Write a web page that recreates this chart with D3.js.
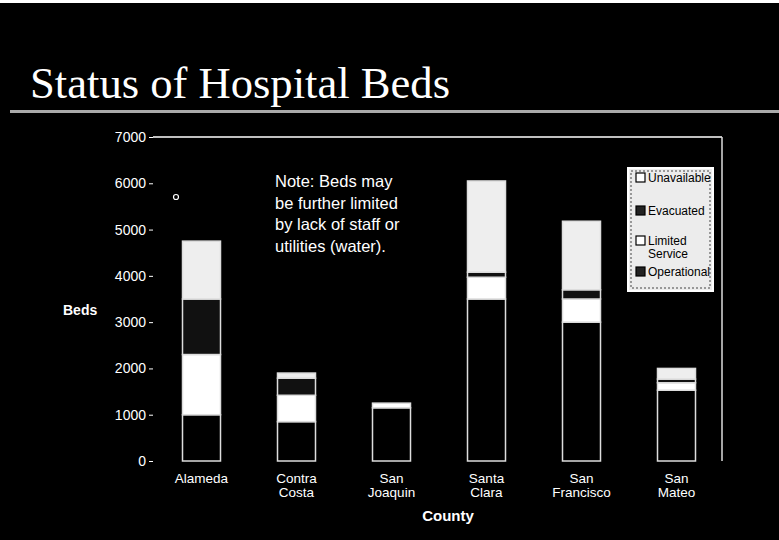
<!DOCTYPE html>
<html><head><meta charset="utf-8">
<script src="https://cdn.jsdelivr.net/npm/d3@7"></script>
<style>html,body{margin:0;padding:0;background:#000;}svg{display:block;}</style>
</head><body>
<svg id="chart" width="779" height="540"></svg>
<script>
const categories = ["Alameda", "Contra Costa", "San Joaquin", "Santa Clara", "San Francisco", "San Mateo"];
const operational = [1000, 850, 1150, 3500, 3000, 1530];
const limitedService = [1300, 570, 100, 470, 500, 160];
const evacuated = [1200, 370, 0, 110, 200, 80];
const unavailable = [1250, 110, 0, 1970, 1480, 230];
const yTicks = [0, 1000, 2000, 3000, 4000, 5000, 6000, 7000];
const seriesNames = ["Operational", "Limited Service", "Evacuated", "Unavailable"];
const legendLabels = [["Unavailable"], ["Evacuated"], ["Limited", "Service"], ["Operational"]];
const noteLines = ["Note: Beds may", "be further limited", "by  lack of staff or", "utilities (water)."];
const title = "Status of Hospital Beds";

const svg = d3.select("#chart");
svg.append("rect").attr("width", 779).attr("height", 540).attr("fill", "#000");
svg.append("rect").attr("x", 0).attr("y", 0).attr("width", 779).attr("height", 3).attr("fill", "#fff");

// title
svg.append("text").attr("x", 30).attr("y", 98).text(title)
  .attr("font-family", "Liberation Serif, serif").attr("font-size", 45)
  .attr("fill", "#fff").attr("textLength", 420).attr("lengthAdjust", "spacingAndGlyphs");
svg.append("rect").attr("x", 10).attr("y", 110).attr("width", 769).attr("height", 3).attr("fill", "#aaa");

const x = d3.scaleBand().domain(categories).range([154, 724]).paddingInner(0.6).paddingOuter(0.3);
const y = d3.scaleLinear().domain([0, 7000]).range([461, 137]);

// frame lines (top and right)
svg.append("line").attr("x1", 153).attr("x2", 722).attr("y1", y(7000)).attr("y2", y(7000)).attr("stroke", "#fff").attr("stroke-width", 1.5);
svg.append("line").attr("x1", 722).attr("x2", 722).attr("y1", y(7000)).attr("y2", y(0)).attr("stroke", "#ddd").attr("stroke-width", 1.5);

// y axis
const yAxis = d3.axisLeft(y).tickValues(yTicks).tickSize(4).tickPadding(3).tickFormat(d3.format("d"));
const ga = svg.append("g").attr("transform", "translate(153,0)").call(yAxis);
ga.select(".domain").remove();
ga.selectAll("line").attr("stroke", "#fff");
ga.selectAll("text").attr("fill", "#fff").attr("font-family", "Liberation Sans, Arial, sans-serif").attr("font-size", 14);

svg.append("text").attr("x", 63).attr("y", 315).text("Beds").attr("fill", "#fff")
  .attr("font-family", "Liberation Sans, Arial, sans-serif").attr("font-size", 14).attr("font-weight", "bold");

// bars
const rows = categories.map((c, i) => ({
  cat: c, "Operational": operational[i], "Limited Service": limitedService[i],
  "Evacuated": evacuated[i], "Unavailable": unavailable[i]
}));
const stack = d3.stack().keys(seriesNames)(rows);
const fills = {"Operational": "#000", "Limited Service": "#fff", "Evacuated": "#111", "Unavailable": "#eee"};
stack.forEach(s => {
  svg.append("g").selectAll("rect").data(s.filter(d => d[1] > d[0])).join("rect")
    .attr("x", d => x(d.data.cat)).attr("width", x.bandwidth())
    .attr("y", d => y(d[1])).attr("height", d => y(d[0]) - y(d[1]))
    .attr("fill", fills[s.key]).attr("stroke", "#ddd").attr("stroke-width", 1.5);
});

// category labels
const gl = svg.append("g");
categories.forEach(c => {
  const parts = c.split(" ");
  const t = gl.append("text").attr("x", x(c) + x.bandwidth() / 2).attr("y", 483)
    .attr("text-anchor", "middle").attr("fill", "#fff")
    .attr("font-family", "Liberation Sans, Arial, sans-serif").attr("font-size", 13.5);
  parts.forEach((p, k) => t.append("tspan").attr("x", x(c) + x.bandwidth() / 2).attr("dy", k ? 14 : 0).text(p));
});
svg.append("text").attr("x", 448).attr("y", 521).attr("text-anchor", "middle").text("County")
  .attr("fill", "#fff").attr("font-family", "Liberation Sans, Arial, sans-serif").attr("font-size", 15).attr("font-weight", "bold");

// note
const nt = svg.append("text").attr("x", 275).attr("y", 187).attr("fill", "#fff")
  .attr("font-family", "Liberation Sans, Arial, sans-serif").attr("font-size", 16.5);
noteLines.forEach((l, k) => nt.append("tspan").attr("x", 275).attr("dy", k ? 21.5 : 0).text(l));

svg.append("circle").attr("cx", 176).attr("cy", 197).attr("r", 2.5).attr("fill", "none").attr("stroke", "#fff").attr("stroke-width", 1.2);

// legend
const lg = svg.append("g");
lg.append("rect").attr("x", 628).attr("y", 168).attr("width", 85).attr("height", 123).attr("fill", "#ececec").attr("stroke", "#fff").attr("stroke-width", 2);
lg.append("rect").attr("x", 631).attr("y", 171).attr("width", 79).attr("height", 117).attr("fill", "none").attr("stroke", "#444").attr("stroke-width", 1).attr("stroke-dasharray", "2,2");
const legendKeys = ["Unavailable", "Evacuated", "Limited Service", "Operational"];
const legendY = [178, 211, 241, 272];
legendKeys.forEach((k, i) => {
  const dark = (k === "Evacuated" || k === "Operational");
  lg.append("rect").attr("x", 636).attr("y", legendY[i] - 5).attr("width", 9).attr("height", 9)
    .attr("fill", dark ? "#222" : "#fff").attr("stroke", "#000").attr("stroke-width", 1.2);
  const t = lg.append("text").attr("x", 648).attr("y", legendY[i] + 4).attr("fill", "#000")
    .attr("font-family", "Liberation Sans, Arial, sans-serif").attr("font-size", 12);
  legendLabels[i].forEach((p, j) => t.append("tspan").attr("x", 648).attr("dy", j ? 13 : 0).text(p));
});
</script>
</body></html>
